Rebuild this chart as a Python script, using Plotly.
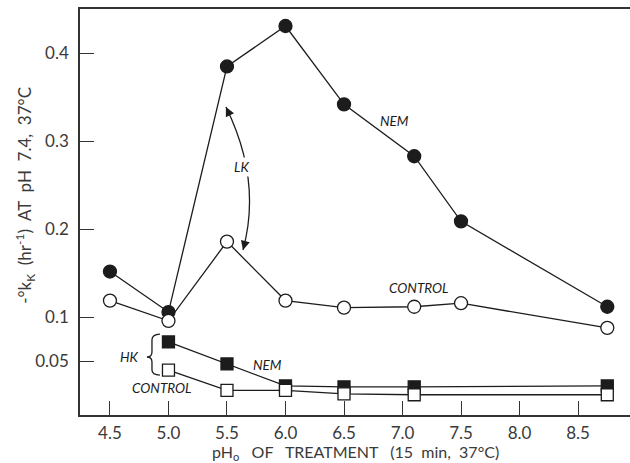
import plotly.graph_objects as go

# treatment pH values
ph_circ = [4.5, 5.0, 5.5, 6.0, 6.5, 7.1, 7.5, 8.75]
ph_sq = [5.0, 5.5, 6.0, 6.5, 7.1, 8.75]

# LK cells: rate constants
lk_nem = [0.152, 0.106, 0.385, 0.431, 0.342, 0.283, 0.209, 0.112]
lk_control = [0.119, 0.096, 0.186, 0.119, 0.111, 0.112, 0.116, 0.088]

# HK cells: rate constants
hk_nem = [0.072, 0.047, 0.022, 0.021, 0.021, 0.022]
hk_control = [0.040, 0.017, 0.017, 0.013, 0.012, 0.012]

x_ticks = [4.5, 5.0, 5.5, 6.0, 6.5, 7.0, 7.5, 8.0, 8.5]
x_ticktext = ["4.5", "5.0", "5.5", "6.0", "6.5", "7.0", "7.5", "8.0", "8.5"]
y_ticks = [0.05, 0.1, 0.2, 0.3, 0.4]
y_ticktext = ["0.05", "0.1", "0.2", "0.3", "0.4"]

INK = "#1c1c1c"
GREY = "#3a3a3a"
FONT = "Lato"
SP = "\u00a0"

fig = go.Figure()


def add_series(x, y, symbol, filled):
    fig.add_trace(go.Scatter(
        x=x, y=y, mode="lines+markers",
        line=dict(color=INK, width=1.3),
        marker=dict(symbol=symbol, size=13 if symbol == "circle" else 12,
                    color=INK if filled else "white",
                    line=dict(color=INK, width=1.3)),
        showlegend=False, cliponaxis=False,
    ))


add_series(ph_circ, lk_nem, "circle", True)
add_series(ph_circ, lk_control, "circle", False)
add_series(ph_sq, hk_nem, "square", True)
add_series(ph_sq, hk_control, "square", False)

# curved double arrow linking the two LK curves
fig.add_shape(type="path",
              path="M 5.491 0.339 Q 5.799 0.256 5.637 0.1765",
              line=dict(color=INK, width=1.3), layer="above")
for x, y, ax, ay in [(5.491, 0.339, 4.4, 9.0), (5.637, 0.1765, 2.6, -9.7)]:
    fig.add_annotation(x=x, y=y, ax=ax, ay=ay, text="", showarrow=True,
                       arrowhead=2, arrowsize=1.4, arrowwidth=1.3,
                       arrowcolor=INK)

# brace grouping the HK curves
fig.add_shape(type="path",
              path=("M 4.927 0.0810 Q 4.859 0.0805 4.859 0.0745 "
                    "L 4.859 0.0606 Q 4.859 0.0549 4.816 0.0549 "
                    "Q 4.859 0.0549 4.859 0.0492 L 4.859 0.0400 "
                    "Q 4.859 0.0344 4.927 0.0344"),
              line=dict(color=INK, width=1.3), layer="above")

labels = [
    ("NEM", 6.932, 0.3231, False),
    ("CONTROL", 7.141, 0.1330, False),
    ("LK", 5.620, 0.2711, True),
    ("HK", 4.667, 0.0550, False),
    ("NEM", 5.850, 0.0458, False),
    ("CONTROL", 4.944, 0.0197, False),
]
for text, x, y, boxed in labels:
    fig.add_annotation(
        x=x, y=y, text=f"<i>{text}</i>", showarrow=False,
        font=dict(family=FONT, size=13.5, color=INK),
        bgcolor="white" if boxed else None,
    )

axis_common = dict(
    showline=True, linecolor="#333333", linewidth=1.5,
    ticks="inside", ticklen=14, tickwidth=1.3, tickcolor="#333333",
    showgrid=False, zeroline=False,
    tickfont=dict(family=FONT, size=17, color=GREY),
)

fig.update_xaxes(
    range=[4.244, 8.944], tickvals=x_ticks, ticktext=x_ticktext,
    mirror=True, ticklabelstandoff=2,
    **axis_common,
)
fig.update_yaxes(
    range=[-0.011, 0.4503], tickvals=y_ticks, ticktext=y_ticktext,
    ticklabelstandoff=6,
    **axis_common,
)

# horizontal axis title
x_title = (f"pH<sub>o</sub>{SP*3}OF{SP*3}TREATMENT{SP*3}(15{SP*2}min,"
           f"{SP*2}37°C)")
fig.add_annotation(
    xref="paper", yref="paper", x=0.5, y=-0.093,
    text=x_title, showarrow=False, xanchor="center", yanchor="middle",
    font=dict(family=FONT, size=16, color=GREY),
)

# vertical axis title
y_title = (f"-°k<sub>K</sub>{SP*2}(hr<sup>-1</sup>){SP*2}AT{SP*2}pH{SP*2}7.4,"
           f"{SP*2}37°C")
fig.add_annotation(
    xref="paper", yref="paper", x=-0.1, y=0.54, textangle=-90,
    text=y_title, showarrow=False, xanchor="center", yanchor="middle",
    font=dict(family=FONT, size=17, color=GREY),
)

fig.update_layout(
    width=630, height=463,
    margin=dict(l=80, r=0, t=9, b=48),
    plot_bgcolor="white", paper_bgcolor="white",
)

fig.write_html("out.html")
